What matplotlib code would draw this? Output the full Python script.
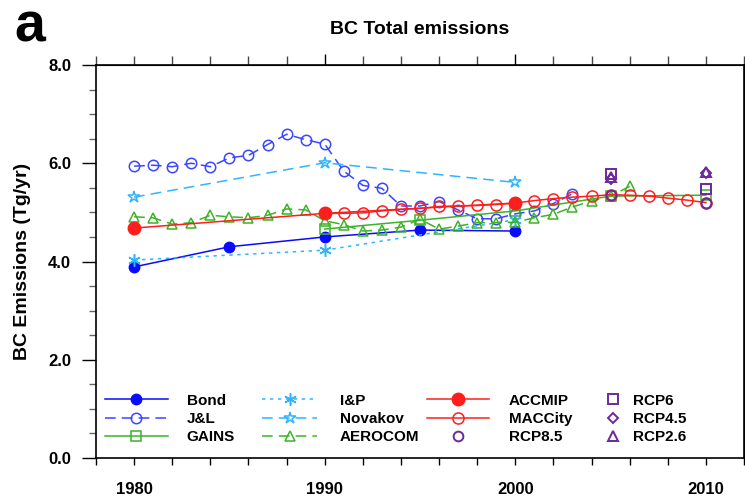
import matplotlib.pyplot as plt
from matplotlib.ticker import MultipleLocator, FixedLocator, NullFormatter, FormatStrFormatter

plt.rcParams['font.family'] = ['Liberation Sans', 'DejaVu Sans']
plt.rcParams['font.weight'] = 'bold'

# BC emissions (Tg/yr) by inventory
bond_yr = [1980, 1985, 1990, 1995, 2000]
bond = [3.89, 4.30, 4.50, 4.64, 4.62]

jl_yr = list(range(1980, 2004))
jl = [5.94, 5.96, 5.93, 6.00, 5.93, 6.11, 6.16, 6.38, 6.59, 6.48, 6.39, 5.84,
      5.55, 5.49, 5.13, 5.13, 5.22, 5.05, 4.87, 4.87, 4.97, 5.03, 5.18, 5.38]

gains_yr = [1990, 1995, 2000, 2005, 2010]
gains = [4.66, 4.84, 5.03, 5.33, 5.35]

ip_yr = [1980, 1990, 2000]
ip = [4.03, 4.23, 4.85]

nov_yr = [1980, 1990, 2000]
nov = [5.31, 6.01, 5.61]

aero_yr = list(range(1980, 2007))
aero = [4.91, 4.89, 4.76, 4.79, 4.94, 4.91, 4.89, 4.94, 5.07, 5.05,
        4.83, 4.75, 4.62, 4.64, 4.70, 4.86, 4.66, 4.72, 4.79, 4.79,
        4.80, 4.89, 4.96, 5.11, 5.23, 5.33, 5.53]

accmip_yr = [1980, 1990, 2000]
accmip = [4.68, 4.98, 5.19]

macc_yr = list(range(1990, 2011))
macc = [4.98, 4.98, 4.99, 5.03, 5.06, 5.08, 5.12, 5.13, 5.14, 5.16, 5.19,
        5.24, 5.28, 5.31, 5.33, 5.36, 5.35, 5.33, 5.29, 5.25, 5.20]

rcp_yr = [2005, 2010]
rcp85 = [5.36, 5.20]
rcp6 = [5.78, 5.48]
rcp45 = [5.68, 5.80]
rcp26 = [5.71, 5.83]

W, H = 745, 499
fig = plt.figure(figsize=(W / 100, H / 100), dpi=100)
ax = fig.add_axes([96 / W, 1 - 458 / H, 648 / W, 393 / H])

blue = '#0a0aff'
jlblue = '#3a46ff'
sky = '#30b4ff'
green = '#3cb428'
red = '#ff1e1e'
purple = '#6a2a9a'

h = {}
h['Bond'], = ax.plot(bond_yr, bond, '-', color=blue, lw=1.1, marker='o', ms=7.5,
                     mfc=blue, mec=blue)
h['J&L'], = ax.plot(jl_yr, jl, color=jlblue, lw=1.1, dashes=(7, 4), marker='o', ms=7.5,
                    mfc='none', mec=jlblue, mew=1.1)
h['GAINS'], = ax.plot(gains_yr, gains, '-', color=green, lw=1.1, marker='s', ms=7,
                      mfc='none', mec=green, mew=1.1)
h['I&P'], = ax.plot(ip_yr, ip, color=sky, lw=1.1, dashes=(2.2, 3), marker=(6, 2, 0), ms=9,
                    mec=sky, mew=1.1)
h['Novakov'], = ax.plot(nov_yr, nov, color=sky, lw=1.1, dashes=(7, 4), marker='*', ms=9,
                        mfc='none', mec=sky, mew=1.1)
h['AEROCOM'], = ax.plot(aero_yr, aero, color=green, lw=1.1, dashes=(7, 4), marker='^', ms=7.5,
                        mfc='none', mec=green, mew=1.1)
h['ACCMIP'], = ax.plot(accmip_yr, accmip, '-', color=red, lw=1.1, marker='o', ms=9,
                       mfc=red, mec=red)
h['MACCity'], = ax.plot(macc_yr, macc, '-', color=red, lw=1.1, marker='o', ms=8,
                        mfc='none', mec=red, mew=1.1)
h['RCP8.5'], = ax.plot(rcp_yr, rcp85, ls='none', marker='o', ms=7, mfc='none',
                       mec=purple, mew=1.4)
h['RCP6'], = ax.plot(rcp_yr, rcp6, ls='none', marker='s', ms=7, mfc='none',
                     mec=purple, mew=1.4)
h['RCP4.5'], = ax.plot(rcp_yr, rcp45, ls='none', marker='D', ms=5.5, mfc='none',
                       mec=purple, mew=1.4)
h['RCP2.6'], = ax.plot(rcp_yr, rcp26, ls='none', marker='^', ms=6.5, mfc='none',
                       mec=purple, mew=1.4)

ax.set_xlim(1978, 2012)
ax.set_ylim(0, 8)

ax.xaxis.set_major_locator(FixedLocator([1980, 1990, 2000, 2010]))
ax.xaxis.set_minor_locator(MultipleLocator(2))
ax.yaxis.set_major_locator(MultipleLocator(2))
ax.yaxis.set_minor_locator(MultipleLocator(0.5))
ax.yaxis.set_major_formatter(FormatStrFormatter('%.1f'))

ax.tick_params(axis='x', which='both', direction='out', length=5, width=1,
               labelsize=12, pad=12)
ax.tick_params(axis='y', which='major', direction='out', length=10, width=1,
               labelsize=12, pad=8)
ax.tick_params(axis='y', which='minor', direction='out', length=5, width=1,
               color='#666666')
for lab in ax.get_xticklabels() + ax.get_yticklabels():
    lab.set_fontweight('bold')

# outward ticks on the top and right edges, no labels
top = ax.secondary_xaxis('top')
top.xaxis.set_major_locator(FixedLocator([1990, 2000]))
top.xaxis.set_minor_locator(MultipleLocator(2))
top.xaxis.set_major_formatter(NullFormatter())
top.tick_params(which='major', direction='out', length=8, width=1)
top.tick_params(which='minor', direction='out', length=6.5, width=1, color='#444444')

right = ax.secondary_yaxis('right')
right.yaxis.set_major_locator(MultipleLocator(2))
right.yaxis.set_minor_locator(MultipleLocator(0.5))
right.yaxis.set_major_formatter(NullFormatter())
right.tick_params(which='both', direction='out', length=3, width=1, color='#555555')

for s in ax.spines.values():
    s.set_linewidth(1.2)

ax.set_ylabel('BC Emissions (Tg/yr)', fontsize=14, fontweight='bold', labelpad=12)

fig.text(420 / W, 1 - 30 / H, 'BC Total emissions', ha='center', va='center',
         fontsize=14, fontweight='bold')
fig.text(14 / W, 1 - 28 / H, 'a', ha='left', va='center', fontsize=40, fontweight='bold')

# four legend columns, placed in pixel positions
legend_font = {'size': 11, 'weight': 'bold'}
columns = [
    (['Bond', 'J&L', 'GAINS'], 105, 4.1, 1.25),
    (['I&P', 'Novakov', 'AEROCOM'], 262, 3.6, 1.5),
    (['ACCMIP', 'MACCity', 'RCP8.5'], 427, 4.05, 1.3),
    (['RCP6', 'RCP4.5', 'RCP2.6'], 598, 1.96, 0.3),
]
for names, x0, hlen, tpad in columns:
    fig.legend([h[n] for n in names], names, loc='center left',
               bbox_to_anchor=(x0 / W, 1 - 419 / H), frameon=False,
               handlelength=hlen, handletextpad=tpad, borderpad=0,
               borderaxespad=0, labelspacing=0.28, prop=legend_font)

fig.savefig('out.png', dpi=100)
